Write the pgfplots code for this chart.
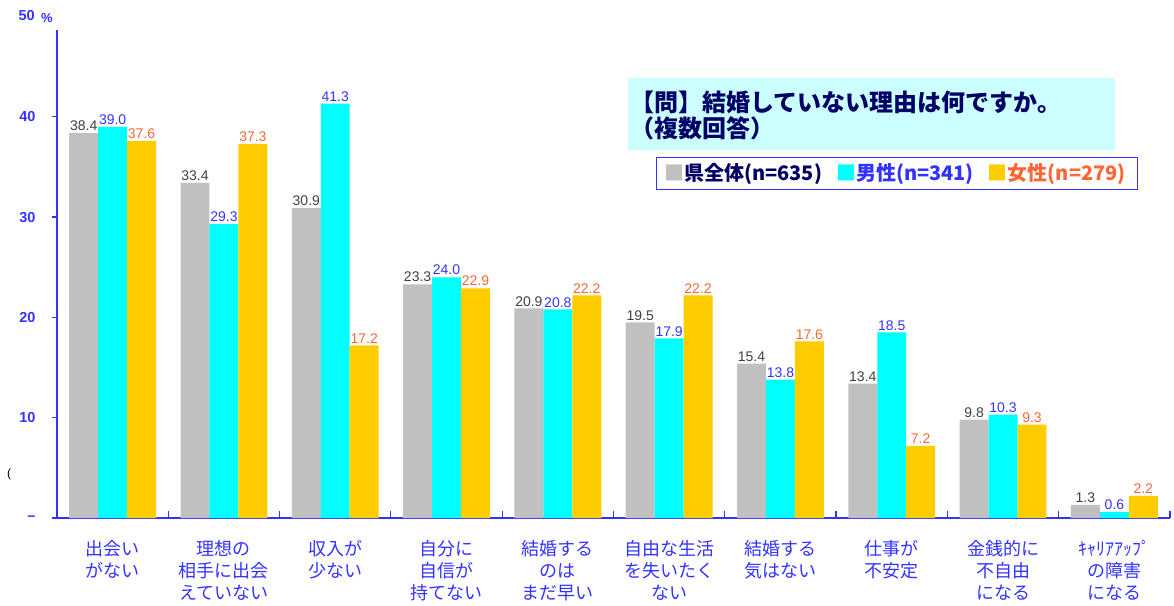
\documentclass[border=0pt]{standalone}
\usepackage{fontspec}
\setmainfont{Liberation Sans}
\newfontfamily\cjk{Noto Sans CJK JP}
\usepackage{pgfplots}
\usepackage{pgfplotstable}
\pgfplotsset{compat=1.18}
\definecolor{cgray}{HTML}{C0C0C0}
\definecolor{ccyan}{HTML}{00FFFF}
\definecolor{cyell}{HTML}{FFCC00}
\definecolor{lgray}{HTML}{404040}
\definecolor{lblue}{RGB}{51,51,255}
\definecolor{lorange}{RGB}{255,102,51}
\definecolor{axblue}{RGB}{51,51,255}
\definecolor{navy}{HTML}{000066}
\definecolor{titlebg}{HTML}{CCFFFF}
\pgfplotstableread{
x a b c
0 38.4 39.0 37.6
1 33.4 29.3 37.3
2 30.9 41.3 17.2
3 23.3 24.0 22.9
4 20.9 20.8 22.2
5 19.5 17.9 22.2
6 15.4 13.8 17.6
7 13.4 18.5 7.2
8 9.8 10.3 9.3
9 1.3 0.6 2.2
}\data
\begin{document}
\begin{tikzpicture}[x=1pt,y=1pt]
\path[use as bounding box] (0,0) rectangle (1174,605);
\begin{axis}[
  at={(57pt,87pt)}, anchor=south west,
  scale only axis, width=1113pt, height=488pt,
  xmin=-0.5, xmax=9.5, ymin=0, ymax=48.65,
  axis x line=bottom, axis y line=left,
  axis line style={-, draw=axblue, line width=1.2pt},
  ybar, bar width=0.26,
  xtick={0,...,9},
  xticklabels={{出会い\\がない},{理想の\\相手に出会\\えていない},{収入が\\少ない},{自分に\\自信が\\持てない},{結婚する\\のは\\まだ早い},{自由な生活\\を失いたく\\ない},{結婚する\\気はない},{仕事が\\不安定},{金銭的に\\不自由\\になる},{ｷｬﾘｱｱｯﾌﾟ\\の障害\\になる}},
  xticklabel style={font=\cjk\fontsize{18}{22}\selectfont, align=center, text=lblue, anchor=north, yshift=-19pt},
  major x tick style={draw=none},
  minor xtick={0.5,1.5,...,9.5},
  minor tick length=7pt,
  minor x tick style={draw=axblue, line width=1.2pt},
  tick align=inside,
  ytick={0,10,20,30,40},
  yticklabels={–,10,20,30,40},
  major tick length=5pt,
  major y tick style={draw=axblue, line width=1.2pt, xshift=-5pt},
  yticklabel style={font=\bfseries\fontsize{14.5}{14.5}\selectfont, text=axblue, anchor=east, xshift=-18pt},
  nodes near coords={\pgfmathprintnumber[fixed,fixed zerofill,precision=1,assume math mode=true]{\pgfplotspointmeta}},
  nodes near coords style={font=\fontsize{14}{14}\selectfont, anchor=south, inner sep=2pt},
  clip=false,
]
\addplot[fill=cgray, draw=none, bar shift=-0.26, every node near coord/.append style={text=lgray}] table[x=x,y=a]{\data};
\addplot[fill=ccyan, draw=none, bar shift=0, every node near coord/.append style={text=lblue}] table[x=x,y=b]{\data};
\addplot[fill=cyell, draw=none, bar shift=0.26, every node near coord/.append style={text=lorange}] table[x=x,y=c]{\data};
\end{axis}
% 50 % label
\node[anchor=east, font=\bfseries\fontsize{14.5}{14.5}\selectfont, text=axblue, inner sep=0] at (35,589) {50};
\node[anchor=west, font=\bfseries\fontsize{13}{13}\selectfont, text=axblue, inner sep=0] at (41,587) {\%};
\node[anchor=center, font=\fontsize{12}{12}\selectfont, inner sep=0] at (9,131) {(};
% title box
\fill[titlebg] (628,455) rectangle (1115,527);
\node[anchor=west, inner sep=0, font=\cjk\bfseries\fontsize{24}{24}\selectfont, text=navy] at (630,503) {【問】結婚していない理由は何ですか。};
\node[anchor=west, inner sep=0, font=\cjk\bfseries\fontsize{24}{24}\selectfont, text=navy] at (630,477) {（複数回答）};
% legend box
\draw[fill=white, draw=axblue, line width=1pt] (656,415) rectangle (1137,447);
\node[anchor=west, inner sep=0, font=\cjk\bfseries\fontsize{20}{20}\selectfont] at (664,431) {\textcolor{cgray}{■}\textcolor{navy}{県全体(n=635)}\hspace{14pt}\textcolor{ccyan}{■}\textcolor{lblue}{男性(n=341)}\hspace{14pt}\textcolor{cyell}{■}\textcolor{lorange}{女性(n=279)}};
\end{tikzpicture}
\end{document}
